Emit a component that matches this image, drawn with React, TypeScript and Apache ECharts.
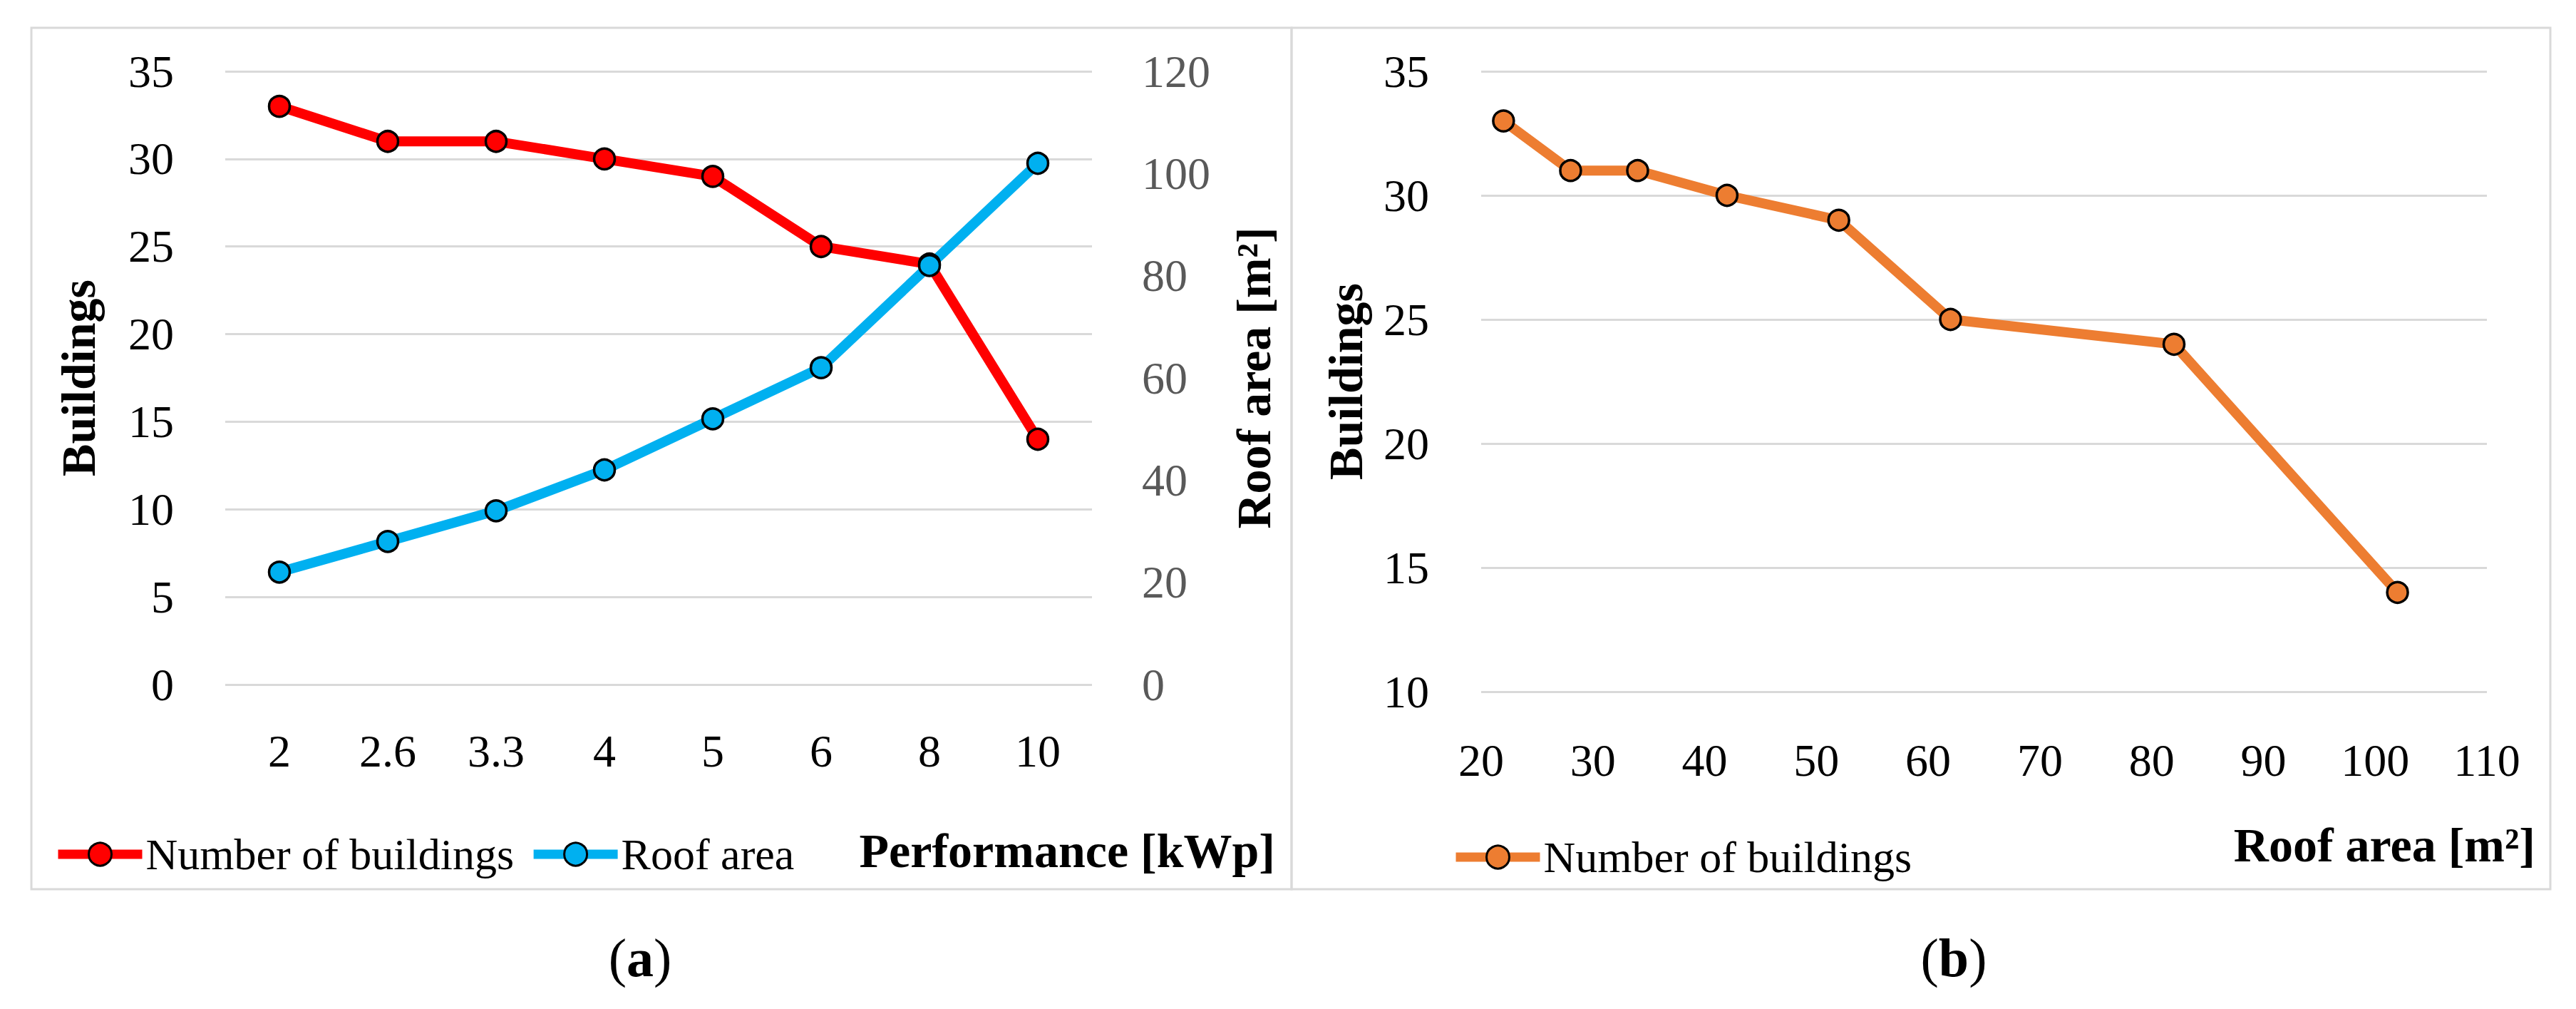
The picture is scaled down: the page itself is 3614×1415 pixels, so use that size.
import React, { useEffect, useRef } from "react";
import * as echarts from "echarts";

// ---- Data ----
const performanceKWp = ["2", "2.6", "3.3", "4", "5", "6", "8", "10"];
const numberOfBuildings = [33, 31, 31, 30, 29, 25, 24, 14];
const roofArea = [22, 28, 34, 42, 52, 62, 82, 102];

const leftBuildingsAxis = { min: 0, max: 35, interval: 5 };
const leftRoofAxis = { min: 0, max: 120, interval: 20 };
const rightBuildingsAxis = { min: 10, max: 35, interval: 5 };
const rightRoofAxis = { min: 20, max: 110, interval: 10 };

const legendLeft = ["Number of buildings", "Roof area"];
const legendRight = ["Number of buildings (b)"];

const FONT = "'Liberation Serif', 'Times New Roman', serif";
const GRID_COLOR = "#D9D9D9";
const RED = "#FF0000";
const BLUE = "#00B0F0";
const ORANGE = "#ED7D31";

export default function App() {
  const ref = useRef<HTMLDivElement>(null);

  useEffect(() => {
    if (!ref.current) return;
    const chart = echarts.init(ref.current, null, { renderer: "svg" });

    const tickLabel = (color: string, margin: number) => ({
      color,
      fontSize: 64,
      lineHeight: 64,
      fontFamily: FONT,
      margin,
    });
    const axisName = {
      fontSize: 68,
      fontWeight: "bold",
      color: "#000",
      fontFamily: FONT,
      align: "center",
      verticalAlign: "middle",
    };
    const splitLine = { show: true, lineStyle: { color: GRID_COLOR, width: 3 } };

    const lineSeries = (color: string) => ({
      type: "line",
      symbol: "circle",
      symbolSize: 29,
      showAllSymbol: true,
      lineStyle: { color, width: 14 },
      itemStyle: { color, borderColor: "#000", borderWidth: 3.5 },
    });

    const legendCommon = {
      orient: "horizontal",
      itemWidth: 118,
      itemHeight: 40,
      itemGap: 21,
      selectedMode: false,
      textStyle: { fontSize: 62, color: "#000", fontFamily: FONT },
      lineStyle: { width: 13 },
      itemStyle: { borderWidth: 3, borderColor: "#000" },
    };

    const option: any = {
      animation: false,
      backgroundColor: "#ffffff",
      textStyle: { fontFamily: FONT },
      grid: [
        { left: 316, top: 100, width: 1216, height: 860 },
        { left: 2078, top: 100, width: 1411, height: 870 },
      ],
      xAxis: [
        {
          gridIndex: 0,
          type: "category",
          data: performanceKWp,
          boundaryGap: true,
          axisLine: { show: false },
          axisTick: { show: false },
          splitLine: { show: false },
          axisLabel: { ...tickLabel("#000", 61), interval: 0 },
        },
        {
          gridIndex: 1,
          type: "value",
          ...rightRoofAxis,
          axisLine: { show: false },
          axisTick: { show: false },
          splitLine: { show: false },
          axisLabel: tickLabel("#000", 64),
        },
      ],
      yAxis: [
        {
          gridIndex: 0,
          type: "value",
          ...leftBuildingsAxis,
          name: "Buildings",
          nameLocation: "middle",
          nameRotate: 90,
          nameGap: 206,
          nameTextStyle: axisName,
          axisLine: { show: false },
          axisTick: { show: false },
          splitLine,
          axisLabel: tickLabel("#000", 72),
        },
        {
          gridIndex: 0,
          type: "value",
          position: "right",
          ...leftRoofAxis,
          name: "Roof area [m²]",
          nameLocation: "middle",
          nameRotate: 90,
          nameGap: 227,
          nameTextStyle: axisName,
          axisLine: { show: false },
          axisTick: { show: false },
          splitLine: { show: false },
          axisLabel: tickLabel("#595959", 70),
        },
        {
          gridIndex: 1,
          type: "value",
          ...rightBuildingsAxis,
          name: "Buildings",
          nameLocation: "middle",
          nameRotate: 90,
          nameGap: 190,
          nameTextStyle: axisName,
          axisLine: { show: false },
          axisTick: { show: false },
          splitLine,
          axisLabel: tickLabel("#000", 73),
        },
      ],
      legend: [
        { ...legendCommon, data: legendLeft, left: 70, top: 1162 },
        {
          ...legendCommon,
          data: legendRight,
          left: 2031,
          top: 1166,
          formatter: () => "Number of buildings",
        },
      ],
      series: [
        {
          ...lineSeries(RED),
          name: legendLeft[0],
          xAxisIndex: 0,
          yAxisIndex: 0,
          data: numberOfBuildings,
        },
        {
          ...lineSeries(BLUE),
          name: legendLeft[1],
          xAxisIndex: 0,
          yAxisIndex: 1,
          data: roofArea,
        },
        {
          ...lineSeries(ORANGE),
          name: legendRight[0],
          xAxisIndex: 1,
          yAxisIndex: 2,
          data: roofArea.map((x, i) => [x, numberOfBuildings[i]]),
        },
      ],
      graphic: [
        {
          type: "rect",
          shape: { x: 44, y: 39, width: 1768, height: 1208 },
          style: { fill: "none", stroke: GRID_COLOR, lineWidth: 3 },
          silent: true,
        },
        {
          type: "rect",
          shape: { x: 1812, y: 39, width: 1766, height: 1208 },
          style: { fill: "none", stroke: GRID_COLOR, lineWidth: 3 },
          silent: true,
        },
        {
          type: "text",
          x: 1789,
          y: 1193,
          style: {
            text: "Performance [kWp]",
            fontSize: 68,
            fontWeight: "bold",
            fontFamily: FONT,
            fill: "#000",
            align: "right",
            verticalAlign: "middle",
          },
        },
        {
          type: "text",
          x: 3557,
          y: 1185,
          style: {
            text: "Roof area [m²]",
            fontSize: 68,
            fontWeight: "bold",
            fontFamily: FONT,
            fill: "#000",
            align: "right",
            verticalAlign: "middle",
          },
        },
        {
          type: "text",
          x: 898,
          y: 1343,
          style: {
            text: "({b|a})",
            fontSize: 76,
            fontFamily: FONT,
            fill: "#000",
            align: "center",
            verticalAlign: "middle",
            rich: { b: { fontSize: 76, fontWeight: "bold", fontFamily: FONT, fill: "#000" } },
          },
        },
        {
          type: "text",
          x: 2741,
          y: 1343,
          style: {
            text: "({b|b})",
            fontSize: 76,
            fontFamily: FONT,
            fill: "#000",
            align: "center",
            verticalAlign: "middle",
            rich: { b: { fontSize: 76, fontWeight: "bold", fontFamily: FONT, fill: "#000" } },
          },
        },
      ],
    };

    chart.setOption(option);
    return () => chart.dispose();
  }, []);

  return (
    <div
      ref={ref}
      style={{ position: "absolute", left: 0, top: 0, width: 3614, height: 1415, background: "#fff" }}
    />
  );
}
